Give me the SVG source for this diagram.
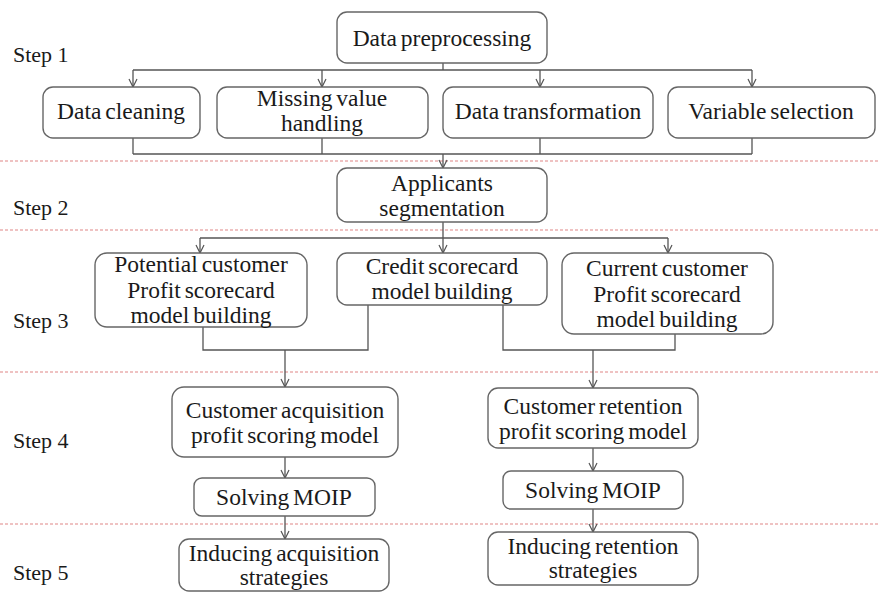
<svg xmlns="http://www.w3.org/2000/svg" width="879" height="593" viewBox="0 0 879 593">
<defs>
<marker id="arr" viewBox="0 0 10 10" refX="9" refY="5" markerWidth="10" markerHeight="10" markerUnits="userSpaceOnUse" orient="auto">
<path d="M1,1 L9,5 L1,9" fill="none" stroke="#555" stroke-width="1.2"/>
</marker>
<style>
.box{fill:#fff;stroke:#666;stroke-width:1.4}
.t{font-family:"Liberation Serif","Times New Roman",serif;font-size:23.5px;fill:#1a1a1a;text-anchor:middle;word-spacing:-2px}
.step{font-family:"Liberation Serif","Times New Roman",serif;font-size:22px;fill:#1a1a1a}
.c{fill:none;stroke:#555;stroke-width:1.3}
.a{fill:none;stroke:#555;stroke-width:1.3;marker-end:url(#arr)}
.sep{stroke:#e08585;stroke-width:1.2;stroke-dasharray:3 2}
</style>
</defs>
<rect width="879" height="593" fill="#fff"/>
<g id="separators">
<line class="sep" x1="0" y1="161" x2="879" y2="161"/>
<line class="sep" x1="0" y1="230" x2="879" y2="230"/>
<line class="sep" x1="0" y1="372" x2="879" y2="372"/>
<line class="sep" x1="0" y1="524" x2="879" y2="524"/>
</g>
<g id="steps">
<text class="step" x="13" y="62">Step 1</text>
<text class="step" x="13" y="215">Step 2</text>
<text class="step" x="13" y="328">Step 3</text>
<text class="step" x="13" y="448">Step 4</text>
<text class="step" x="13" y="580">Step 5</text>
</g>
<g id="connectors">
<path class="c" d="M443,63 V70 M133,70 H752"/>
<path class="a" d="M133,70 V87"/>
<path class="a" d="M322,70 V87"/>
<path class="a" d="M540,70 V87"/>
<path class="a" d="M752,70 V87"/>
<path class="c" d="M133,138 V154 M322,138 V154 M540,138 V154 M752,138 V154 M133,154 H752"/>
<path class="a" d="M443,154 V168"/>
<path class="c" d="M443,222 V238 M200,238 H668"/>
<path class="a" d="M200,238 V253"/>
<path class="a" d="M443,238 V253"/>
<path class="a" d="M668,238 V253"/>
<path class="c" d="M203,327 V350 H368 V305"/>
<path class="a" d="M285,350 V387"/>
<path class="c" d="M503,305 V350 H675 V334"/>
<path class="a" d="M593,350 V388"/>
<path class="a" d="M285,457 V478"/>
<path class="a" d="M285,516 V539"/>
<path class="a" d="M593,448 V471"/>
<path class="a" d="M593,509 V532"/>
</g>
<g id="data-preprocessing"><rect class="box" x="337" y="12" width="210" height="51" rx="10"/><text class="t" x="442" y="46">Data preprocessing</text></g>
<g id="data-cleaning"><rect class="box" x="43" y="87" width="157" height="51" rx="10"/><text class="t" x="121" y="119">Data cleaning</text></g>
<g id="missing-value"><rect class="box" x="217" y="87" width="211" height="51" rx="10"/><text class="t" x="322" y="106">Missing value</text><text class="t" x="322" y="131">handling</text></g>
<g id="data-transformation"><rect class="box" x="443" y="87" width="210" height="51" rx="10"/><text class="t" x="548" y="119">Data transformation</text></g>
<g id="variable-selection"><rect class="box" x="668" y="87" width="207" height="51" rx="10"/><text class="t" x="771" y="119">Variable selection</text></g>
<g id="applicants"><rect class="box" x="337" y="168" width="210" height="54" rx="10"/><text class="t" x="442" y="191">Applicants</text><text class="t" x="442" y="216">segmentation</text></g>
<g id="potential"><rect class="box" x="95" y="253" width="212" height="74" rx="12"/><text class="t" x="201" y="272">Potential customer</text><text class="t" x="201" y="298">Profit scorecard</text><text class="t" x="201" y="323">model building</text></g>
<g id="credit"><rect class="box" x="337" y="253" width="210" height="52" rx="10"/><text class="t" x="442" y="274">Credit scorecard</text><text class="t" x="442" y="299">model building</text></g>
<g id="current"><rect class="box" x="562" y="253" width="211" height="81" rx="12"/><text class="t" x="667" y="276">Current customer</text><text class="t" x="667" y="302">Profit scorecard</text><text class="t" x="667" y="327">model building</text></g>
<g id="acq-model"><rect class="box" x="172" y="387" width="226" height="70" rx="12"/><text class="t" x="285" y="418">Customer acquisition</text><text class="t" x="285" y="443">profit scoring model</text></g>
<g id="acq-moip"><rect class="box" x="194" y="478" width="181" height="38" rx="8"/><text class="t" x="284" y="505">Solving MOIP</text></g>
<g id="acq-strategies"><rect class="box" x="179" y="539" width="210" height="52" rx="10"/><text class="t" x="284" y="561">Inducing acquisition</text><text class="t" x="284" y="585">strategies</text></g>
<g id="ret-model"><rect class="box" x="488" y="388" width="210" height="60" rx="10"/><text class="t" x="593" y="414">Customer retention</text><text class="t" x="593" y="439">profit scoring model</text></g>
<g id="ret-moip"><rect class="box" x="503" y="471" width="180" height="38" rx="8"/><text class="t" x="593" y="498">Solving MOIP</text></g>
<g id="ret-strategies"><rect class="box" x="488" y="532" width="210" height="53" rx="10"/><text class="t" x="593" y="554">Inducing retention</text><text class="t" x="593" y="578">strategies</text></g>
</svg>
